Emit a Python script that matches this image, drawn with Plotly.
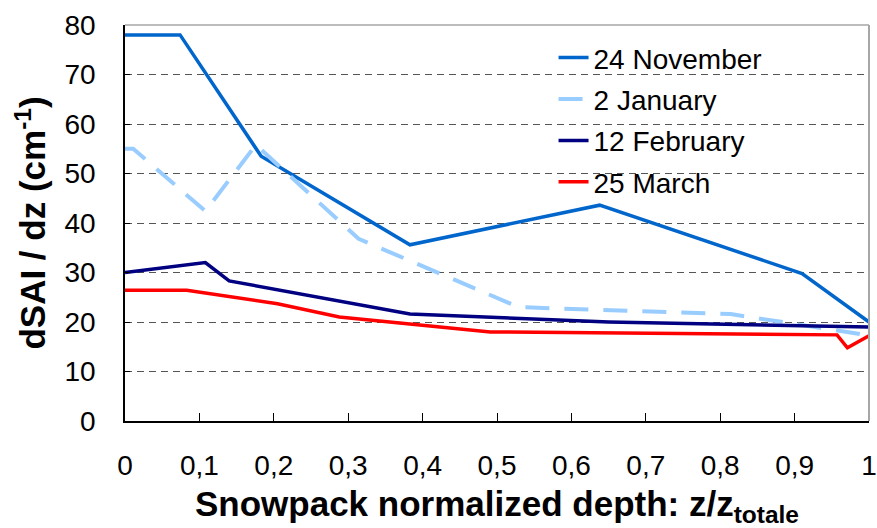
import plotly.graph_objects as go

# Normalized depth (z / z_totale) and dSAI/dz profiles (cm^-1) for four dates
nov_depth = [0, 0.074, 0.183, 0.383, 0.638, 0.91, 1.0]
nov_dsai = [78, 78, 53.5, 35.6, 43.6, 29.8, 20.0]

jan_depth = [0, 0.011, 0.108, 0.176, 0.314, 0.529, 0.814, 1.0]
jan_dsai = [55, 55, 42.4, 55.8, 36.8, 23.0, 21.6, 17.3]

feb_depth = [0, 0.108, 0.14, 0.383, 0.65, 1.0]
feb_dsai = [30, 32, 28.3, 21.6, 20.0, 19.0]

mar_depth = [0, 0.083, 0.205, 0.288, 0.491, 0.957, 0.971, 1.0]
mar_dsai = [26.4, 26.4, 23.7, 21.0, 18.0, 17.4, 14.8, 17.2]

series_names = ["24 November", "2 January", "12 February", "25 March"]

x_tickvals = [0, 0.1, 0.2, 0.3, 0.4, 0.5, 0.6, 0.7, 0.8, 0.9, 1.0]
x_ticktext = ["0", "0,1", "0,2", "0,3", "0,4", "0,5", "0,6", "0,7", "0,8", "0,9", "1"]
y_tickvals = [0, 10, 20, 30, 40, 50, 60, 70, 80]

FONT = "Liberation Sans, Arial, sans-serif"

fig = go.Figure()

styles = [
    dict(color="#0066CC", width=3.5, dash="solid"),
    dict(color="#99CCFF", width=4, dash="24px,15px"),
    dict(color="#000080", width=3.5, dash="solid"),
    dict(color="#FF0000", width=3.5, dash="solid"),
]
data = [(nov_depth, nov_dsai), (jan_depth, jan_dsai),
        (feb_depth, feb_dsai), (mar_depth, mar_dsai)]

for name, (xs, ys), st in zip(series_names, data, styles):
    fig.add_trace(go.Scatter(
        x=xs, y=ys, mode="lines", name=name, legendgroup=name,
        line=dict(color=st["color"], width=st["width"], dash=st["dash"]),
    ))

# White panel behind the legend: hides the gridlines but stays under the curves
fig.add_shape(type="rect", xref="paper", yref="paper",
              x0=0.556, x1=0.926, y0=0.563, y1=0.975,
              fillcolor="white", line=dict(width=0), layer="between")

# Gray frame on the top and right sides of the plotting area
fig.add_shape(type="line", xref="paper", yref="paper", x0=0, x1=1, y0=1, y1=1,
              line=dict(color="#A6A6A6", width=1.5), layer="above")
fig.add_shape(type="line", xref="paper", yref="paper", x0=1, x1=1, y0=0, y1=1,
              line=dict(color="#A6A6A6", width=2), layer="above")

fig.update_layout(
    width=877, height=528,
    margin=dict(l=125, r=8, t=25, b=107),
    paper_bgcolor="white", plot_bgcolor="white",
    font=dict(family=FONT, color="black", size=28),
    showlegend=True,
    legend=dict(
        x=0.576, y=0.980, xanchor="left", yanchor="top",
        bgcolor="rgba(255,255,255,0)", borderwidth=0,
        font=dict(family=FONT, size=28, color="black"),
        traceorder="grouped", tracegroupgap=2,
    ),
    xaxis=dict(
        range=[0, 1], tickvals=x_tickvals, ticktext=x_ticktext,
        showgrid=False, zeroline=False, automargin=False,
        showline=True, linecolor="black", linewidth=1.5,
        ticks="inside", ticklen=8, tickcolor="black", tickwidth=1,
        ticklabelstandoff=19, ticklabeloverflow="allow",
        tickfont=dict(family=FONT, size=28),
        title=dict(text="<b>Snowpack normalized depth: z/z<sub>totale</sub></b>",
                   font=dict(family=FONT, size=35), standoff=15),
    ),
    yaxis=dict(
        range=[0, 80], tickvals=y_tickvals,
        showgrid=True, gridcolor="#555555", griddash="7px,5px", gridwidth=1,
        zeroline=False, automargin=False,
        showline=True, linecolor="black", linewidth=1.5,
        ticks="inside", ticklen=5, tickcolor="black", tickwidth=1,
        ticklabelstandoff=22,
        tickfont=dict(family=FONT, size=28),
        title=dict(text="<b>dSAI / dz (cm<sup>-1</sup>)</b>",
                   font=dict(family=FONT, size=35), standoff=8),
    ),
)

fig.write_html("out.html")
